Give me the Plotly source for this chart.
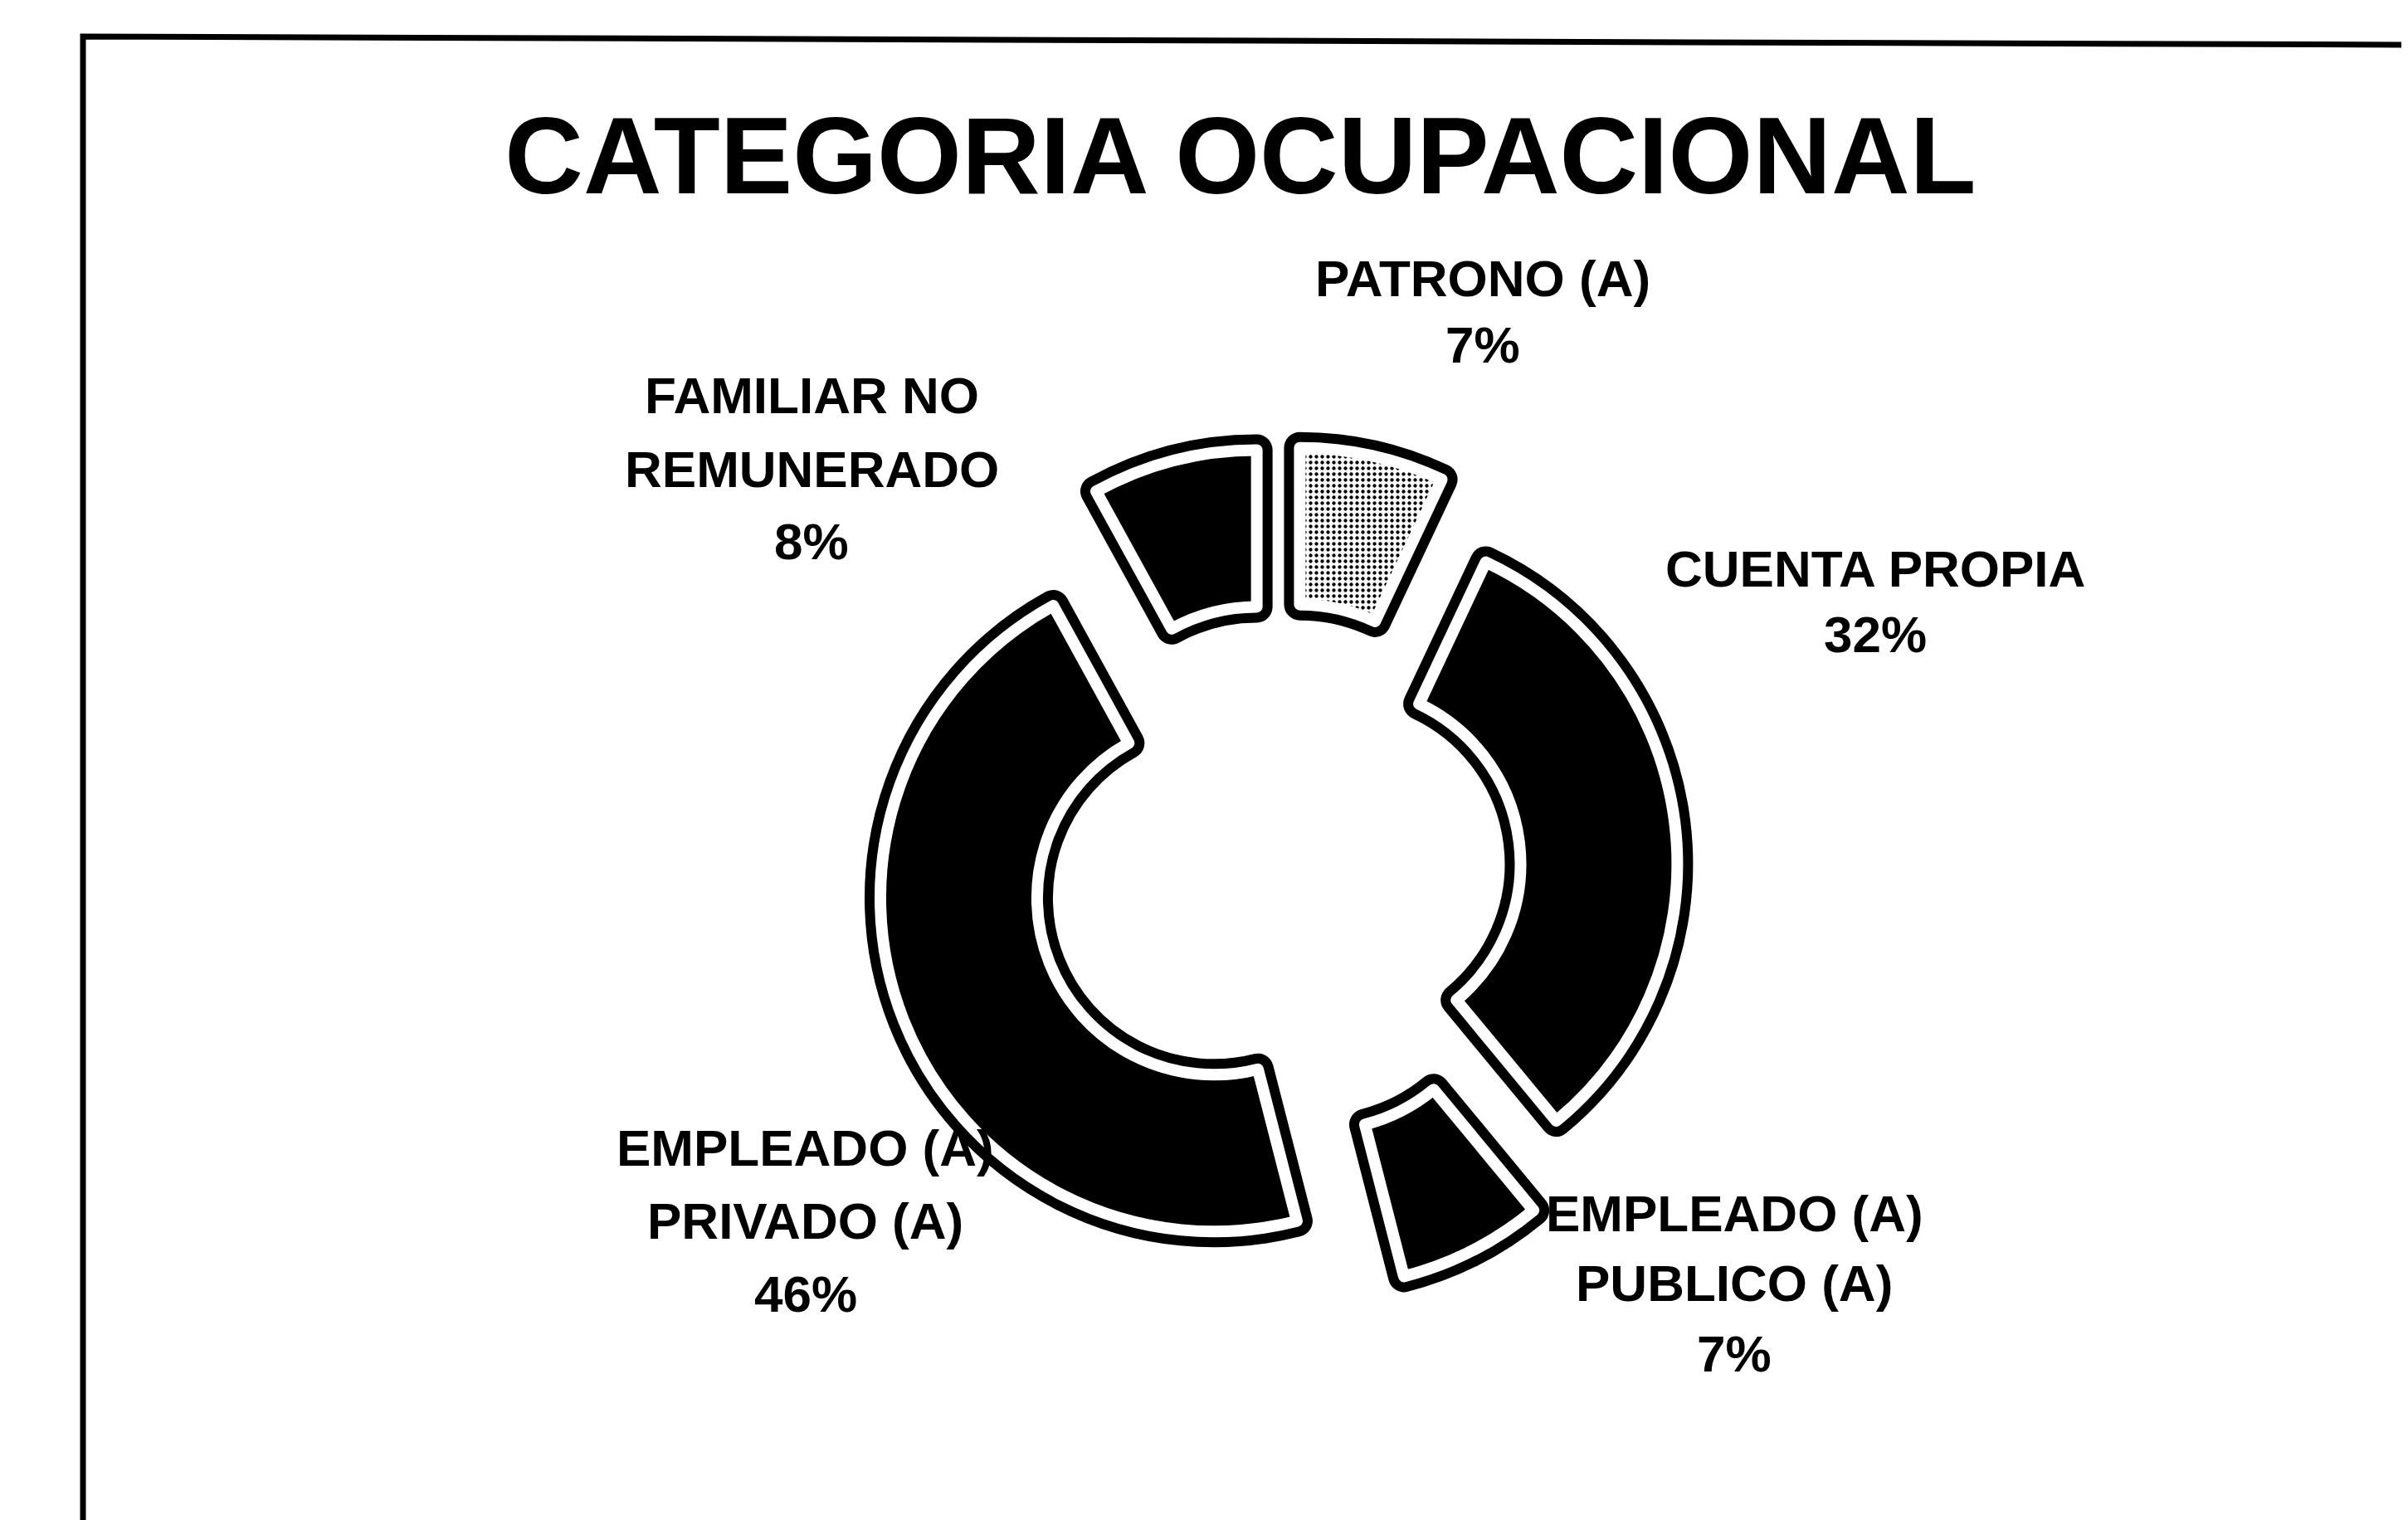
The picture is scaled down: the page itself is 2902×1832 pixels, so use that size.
import plotly.graph_objects as go

# data
categorias = ["PATRONO (A)", "CUENTA PROPIA", "EMPLEADO (A)<br>PUBLICO (A)",
              "EMPLEADO (A)<br>PRIVADO (A)", "FAMILIAR NO<br>REMUNERADO"]
porcentajes = [7, 32, 7, 46, 8]

W, H = 2902, 1832

# label placement in pixels: x centre and y of each text line (layout only)
label_x = [1779, 2252, 2082, 963, 970]
label_lines_y = [[336, 416], [685, 764], [1462, 1546, 1631],
                 [1383, 1471, 1559], [476, 565, 652]]
y_fix = 8   # caps sit a little below the middle of plotly's text box

# donut geometry (pixels)
cx, cy = 1534, 1043
R = 402
pull_px = [112, 78, 110, 85, 110]          # how far each slice is exploded
pulls = [p / R for p in pull_px]
half = R * (1 + max(pulls))
dom = dict(x=[(cx - half) / W, (cx + half) / W],
           y=[1 - (cy + half) / H, 1 - (cy - half) / H])

common = dict(values=porcentajes, labels=categorias, sort=False,
              direction="clockwise", rotation=0, hole=0.53,
              pull=pulls, domain=dom,
              textinfo="none", hoverinfo="skip", showlegend=False)

fig = go.Figure()

# black outer rim
fig.add_trace(go.Pie(marker=dict(colors=["black"] * 5,
                                 line=dict(color="black", width=38)),
                     **common))

# white ring + fills
fig.add_trace(go.Pie(marker=dict(colors=["#d8d8d8", "black", "black", "black", "black"],
                                 line=dict(color="white", width=14),
                                 pattern=dict(shape=[".", "", "", "", ""],
                                              fgcolor="black", size=7,
                                              solidity=0.3)),
                     **common))

for cat, pct, lx, lys in zip(categorias, porcentajes, label_x, label_lines_y):
    lines = cat.split("<br>") + [f"{pct}%"]
    for txt, ly in zip(lines, lys):
        fig.add_annotation(x=lx / W, y=1 - (ly - y_fix) / H, xref="paper", yref="paper",
                           text=f"<b>{txt}</b>", showarrow=False,
                           xanchor="center", yanchor="middle", align="center",
                           font=dict(family="Liberation Sans", size=62, color="black"))

# scanned frame, left and top edges
fig.add_shape(type="path", xref="paper", yref="paper",
              path=f"M {92 / W},0 L {92 / W},{1 - 36 / H} L 1,{1 - 46 / H}",
              line=dict(color="black", width=7))

fig.update_layout(
    width=W, height=H,
    margin=dict(l=0, r=0, t=0, b=0),
    paper_bgcolor="white", plot_bgcolor="white",
    title=dict(text="<b>CATEGORIA OCUPACIONAL</b>", x=1487 / W, xanchor="center",
               y=1 - 179 / H, yanchor="middle",
               font=dict(family="Liberation Sans", size=131, color="black")),
)

fig.write_html("out.html")
